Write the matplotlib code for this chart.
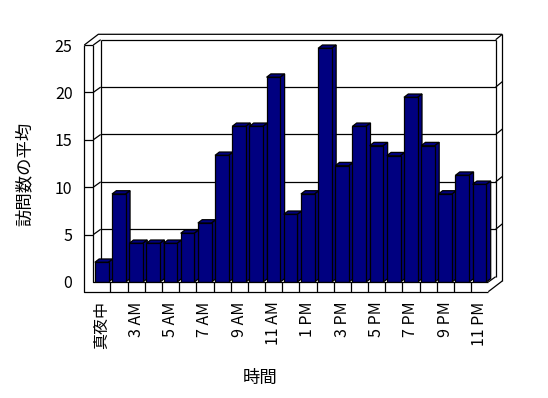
import matplotlib
matplotlib.use('Agg')
import matplotlib.pyplot as plt
from matplotlib.patches import Polygon, Rectangle

plt.rcParams['font.family'] = ['Noto Sans CJK JP', 'DejaVu Sans']

categories = ['真夜中', '2 AM', '3 AM', '4 AM', '5 AM', '6 AM', '7 AM', '8 AM',
              '9 AM', '10 AM', '11 AM', '正午', '1 PM', '2 PM', '3 PM', '4 PM',
              '5 PM', '6 PM', '7 PM', '8 PM', '9 PM', '10 PM', '11 PM']
values = [2.08, 9.28, 4.08, 4.08, 4.08, 5.14, 6.22, 13.36, 16.42, 16.42, 21.6,
          7.14, 9.28, 24.65, 12.27, 16.42, 14.38, 13.32, 19.48, 14.38, 9.28,
          11.26, 10.3]
y_ticks = [0, 5, 10, 15, 20, 25]
y_label = '訪問数の平均'
x_label = '時間'

W, H = 548, 398
NAVY = '#000080'
LW = 0.9

# geometry (data units)
DX, DY = 0.43, 0.56      # front -> inner back wall
TX, TY = 0.815, 1.13     # front -> outer back wall
WALL = 0.524             # left wall thickness
FLOOR = 1.02             # floor thickness
BX, BY = 0.25, 0.35      # bar depth
BW, BOFF = 0.8, 0.09     # bar width / offset in category
YMAX = 25

fig = plt.figure(figsize=(W / 100, H / 100), dpi=100)
x0p, x1p, ytp, ybp = 93.3, 488.3, 45, 282
ax = fig.add_axes([x0p / W, 1 - ybp / H, (x1p - x0p) / W, (ybp - ytp) / H])
n = len(categories)
ax.set_xlim(0, n)
ax.set_ylim(0, YMAX)
for s in ax.spines.values():
    s.set_visible(False)
ax.patch.set_alpha(0)


def line(xs, ys, z=1):
    ax.plot(xs, ys, color='black', lw=LW, clip_on=False, zorder=z,
            solid_capstyle='butt')


# back wall / walls outline
line([DX, n + DX], [YMAX + DY, YMAX + DY])
line([DX, DX], [DY, YMAX + DY])
line([n + DX, n + DX], [DY, YMAX + DY])
line([-WALL, -WALL + TX, n + TX], [YMAX, YMAX + TY, YMAX + TY])
line([0, DX], [YMAX, YMAX + DY])
line([n + DX, n + TX], [YMAX + DY, YMAX + TY])
line([n + TX, n + TX], [-FLOOR + TY, YMAX + TY])
line([n, n + TX], [-FLOOR, -FLOOR + TY])
line([n, n + DX], [0, DY])

# left wall front face and floor front face
ax.add_patch(Rectangle((-WALL, -FLOOR), WALL, YMAX + FLOOR, fc='white',
                       ec='none', clip_on=False, zorder=5))
ax.add_patch(Rectangle((0, -FLOOR), n, FLOOR, fc='white', ec='none',
                       clip_on=False, zorder=5))
lz = 6
line([-WALL, -WALL, n], [YMAX, -FLOOR, -FLOOR], lz)
line([-WALL, 0], [YMAX, YMAX], lz)
line([0, 0, n], [YMAX, 0, 0], lz)
for k in range(1, n):
    line([k, k], [-FLOOR, 0], lz)

# gridlines
for v in y_ticks[1:-1]:
    line([DX, n + DX], [v + DY, v + DY])
    line([0, DX], [v, v + DY])
    line([n + DX, n + TX], [v + DY, v + TY])
    line([-WALL, 0], [v, v], lz)

# bars
xs = [k + BOFF for k in range(n)]
bars = ax.bar(xs, values, width=BW, align='edge', color=NAVY,
              edgecolor='black', linewidth=LW)
for k, (b, v) in enumerate(zip(bars, values)):
    z = 3 + 0.01 * k
    b.set_zorder(z + 0.005)
    xa, xb = xs[k], xs[k] + BW
    ax.add_patch(Polygon([(xa, v), (xa + BX, v + BY), (xb + BX, v + BY),
                          (xb, v)], closed=True, fc=NAVY, ec='black',
                         lw=LW, zorder=z, clip_on=False))
    ax.add_patch(Polygon([(xb, 0), (xb, v), (xb + BX, v + BY), (xb + BX, BY)],
                         closed=True, fc=NAVY, ec='black', lw=LW, zorder=z,
                         clip_on=False))

# ticks
ax.set_yticks(y_ticks)
ax.set_yticklabels([str(t) for t in y_ticks], fontsize=11.5)
ax.tick_params(axis='y', length=0, pad=15)
tick_idx = list(range(0, n, 2))
ax.set_xticks([k + BOFF + BW / 2 for k in tick_idx])
ax.set_xticklabels([categories[k] for k in tick_idx], rotation=90,
                   fontsize=11.5, va='top', ha='center')
ax.tick_params(axis='x', length=0, pad=14)

fig.text(25 / W, 1 - 174 / H, y_label, rotation=90, ha='center',
         va='center', fontsize=12.5)
fig.text(260 / W, 1 - 378 / H, x_label, ha='center', va='center',
         fontsize=12.5)

fig.savefig('out.png', dpi=100, facecolor='white')
